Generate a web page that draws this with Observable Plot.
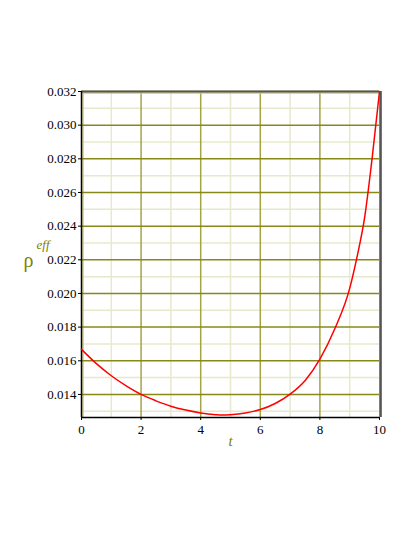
<!DOCTYPE html>
<html>
<head>
<meta charset="utf-8">
<script src="https://cdn.jsdelivr.net/npm/d3@7"></script>
<script src="https://cdn.jsdelivr.net/npm/@observablehq/plot@0.6"></script>
<style>
  html, body { margin: 0; padding: 0; background: #fff; }
</style>
</head>
<body>
<div id="chart"></div>
<script>
const tValues = [0, 0.5, 1, 1.5, 2, 2.5, 3, 3.5, 4, 4.5, 4.7, 5, 5.5, 6, 6.5, 7, 7.5, 8, 8.5, 9, 9.25, 9.5, 9.75, 10];
const rhoValues = [0.01668, 0.01583, 0.01511, 0.01451, 0.0140, 0.01362, 0.01330, 0.01307, 0.01290, 0.01280, 0.01278, 0.01280, 0.01290, 0.01310, 0.01346, 0.01402, 0.01482, 0.0161, 0.0179, 0.0203, 0.0222, 0.0245, 0.0280, 0.0320];

const xMajorTicks = [0, 2, 4, 6, 8, 10];
const xMinorTicks = [1, 3, 5, 7, 9];
const yMajorTicks = [0.014, 0.016, 0.018, 0.020, 0.022, 0.024, 0.026, 0.028, 0.030, 0.032];
const yMinorTicks = [0.013, 0.015, 0.017, 0.019, 0.021, 0.023, 0.025, 0.027, 0.029, 0.031];

const data = tValues.map((t, i) => ({t, rho: rhoValues[i]}));
const serif = "Liberation Serif";

const chart = Plot.plot({
  width: 415,
  height: 537,
  marginLeft: 81,
  marginRight: 36,
  marginTop: 91,
  marginBottom: 120,
  style: "background: #fff; color: #000; font-family: 'Liberation Serif', serif;",
  x: {domain: [0, 10]},
  y: {domain: [0.01263, 0.032]},
  marks: [
    Plot.ruleX(xMinorTicks, {stroke: "#e8e8cc", strokeWidth: 1.5}),
    Plot.ruleY(yMinorTicks, {stroke: "#e8e8cc", strokeWidth: 1.5}),
    Plot.ruleX([0, 10], {stroke: "#c8c880", strokeWidth: 1.5, dx: 1.5}),
    Plot.ruleX(xMajorTicks.filter(d => d > 0 && d < 10), {stroke: "#a4a444", strokeWidth: 1.5}),
    Plot.ruleY(yMajorTicks, {stroke: "#888818", strokeWidth: 1.5}),
    Plot.ruleY([0.032], {stroke: "#c8c880", strokeWidth: 1.5, dy: 1.5}),
    Plot.ruleX([10], {stroke: "#555", strokeWidth: 2.5, dx: 1}),
    Plot.ruleY([0.032], {stroke: "#555", strokeWidth: 2}),
    Plot.ruleY([0.01263], {stroke: "#000", strokeWidth: 1.5}),
    Plot.ruleX([0], {stroke: "#000", strokeWidth: 1.5}),
    Plot.line(data, {x: "t", y: "rho", stroke: "#ff0000", strokeWidth: 1.5, curve: "monotone-x"}),
    Plot.axisY({ticks: yMajorTicks, tickFormat: d3.format(".3f"), fontSize: 13, fontFamily: serif, tickSize: 3, tickPadding: 2, color: "#000", fill: "#000", label: null}),
    Plot.axisX({ticks: xMajorTicks, tickFormat: d3.format("d"), fontSize: 13, fontFamily: serif, tickSize: 3, tickPadding: 4, color: "#000", fill: "#000", label: null}),
    Plot.text(["t"], {frameAnchor: "bottom", dy: 28, fontSize: 15, fontStyle: "italic", fill: "#808000", fontFamily: serif}),
    Plot.text(["ρ"], {frameAnchor: "left", dx: -58, dy: 6, fontSize: 20, fill: "#808000", fontFamily: serif}),
    Plot.text(["eff"], {frameAnchor: "left", dx: -45, dy: -10, fontSize: 13, fontStyle: "italic", fill: "#808000", fontFamily: serif})
  ]
});
document.getElementById("chart").appendChild(chart);
</script>
</body>
</html>
